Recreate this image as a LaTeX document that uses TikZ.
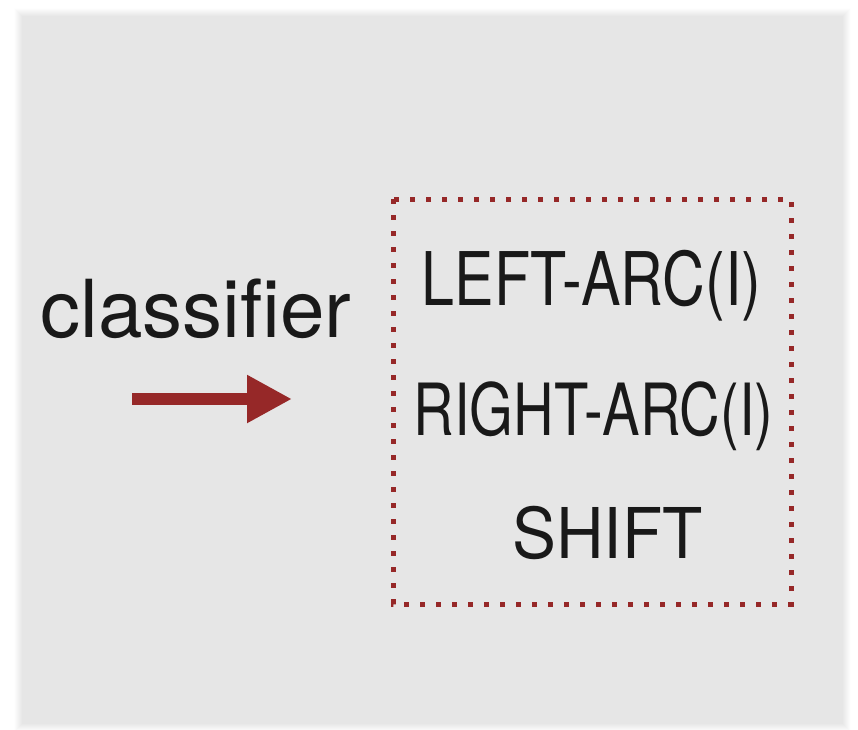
\documentclass[tikz,border=0pt]{standalone}
\usepackage{fontspec}
\setmainfont{TeX Gyre Heros}
\usetikzlibrary{arrows.meta}
\definecolor{panel}{RGB}{230,230,230}
\definecolor{boxred}{RGB}{150,40,40}
\definecolor{ink}{RGB}{25,25,25}
\tikzset{
  label/.style={inner sep=0pt, anchor=base, text=ink},
  dots/.style={draw=boxred, line width=5pt, dash pattern=on 5pt off 11pt},
  flow/.style={draw=boxred, line width=12pt, -{Triangle[length=45pt,width=45pt]}}
}
\begin{document}
\begin{tikzpicture}[x=1pt,y=-1pt]
  \useasboundingbox (0,0) rectangle (858,729);
  \fill[white] (0,0) rectangle (858,729);
  % soft-edged grey panel
  \foreach \k in {8,7,...,1}{
    \pgfmathsetmacro{\mix}{100-\k*12}
    \fill[panel!\mix!white] (22-\k,16-\k) rectangle (843+\k,724+\k);
  }
  \fill[panel] (22,16) rectangle (843,724);
  % label and arrow
  \node[label, font=\fontsize{80}{80}\selectfont] (cls) at (196,337) {classifier};
  \coordinate (ast) at (132,399);
  \coordinate (aen) at (292,399);
  \draw[flow] (ast) -- (aen);
  % dotted box of actions
  \coordinate (bnw) at (393,199);
  \coordinate (bse) at (791,604);
  \draw[dots] (bnw) rectangle (bse);
  \node[label, font=\fontsize{74}{74}\selectfont, xscale=0.80] (la) at (591.5,305) {LEFT-ARC(I)};
  \node[label, font=\fontsize{72}{72}\selectfont, xscale=0.78] (ra) at (593.5,435) {RIGHT-ARC(I)};
  \node[label, font=\fontsize{70}{70}\selectfont, xscale=0.94] (sh) at (607.5,558) {SHIFT};
\end{tikzpicture}
\end{document}
